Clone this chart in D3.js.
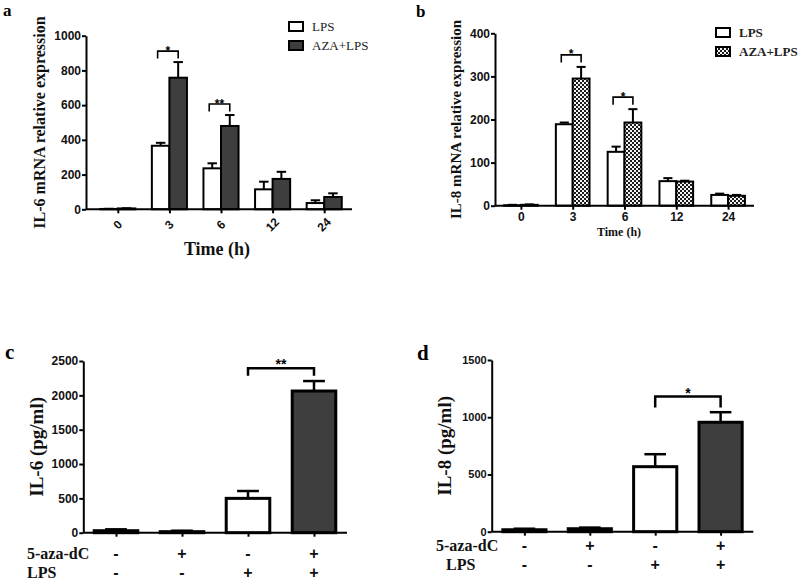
<!DOCTYPE html>
<html><head><meta charset="utf-8">
<script src="https://cdn.jsdelivr.net/npm/d3@7"></script>
<style>body{margin:0;background:#fff}svg{display:block}</style>
</head><body>
<svg id="chart" width="800" height="581"></svg>
<script>
// ---------- DATA ----------
const timeCats = ["0", "3", "6", "12", "24"];
const seriesNames = ["LPS", "AZA+LPS"];

// Panel a: IL-6 mRNA relative expression
const aLPS    = [2, 366, 236, 115, 36];
const aLPSsem = [1, 17, 29, 44, 16];
const aAZA    = [5, 758, 480, 175, 71];
const aAZAsem = [1, 90, 63, 41, 21];
const aTicks  = [0, 200, 400, 600, 800, 1000];
const aSig    = [{cat: "3", label: "*"}, {cat: "6", label: "**"}];

// Panel b: IL-8 mRNA relative expression
const bLPS    = [1, 189, 125, 57, 25];
const bLPSsem = [1, 4, 12, 7, 3];
const bAZA    = [2, 295, 193, 56, 23];
const bAZAsem = [1, 27, 31, 2, 2];
const bTicks  = [0, 100, 200, 300, 400];
const bSig    = [{cat: "3", label: "*"}, {cat: "6", label: "*"}];

// Panels c, d: protein levels
const condCats = ["g1", "g2", "g3", "g4"];
const azaRow   = ["-", "+", "-", "+"];
const lpsRow   = ["-", "-", "+", "+"];
const cVals = [29, 15, 500, 2063];
const cSem  = [20, 14, 107, 145];
const cTicks = [0, 500, 1000, 1500, 2000, 2500];
const cSig = {from: 2, to: 3, label: "**"};
const dVals = [17, 26, 568, 956];
const dSem  = [9, 10, 109, 88];
const dTicks = [0, 500, 1000, 1500];
const dSig = {from: 2, to: 3, label: "*"};

// ---------- DRAW ----------
const svg = d3.select("#chart");
const SERIF = "'Liberation Serif','Times New Roman',serif";
const SANS = "'Liberation Sans',Arial,sans-serif";
const DARK = "#3e3e3e";

const defs = svg.append("defs");
const pat = defs.append("pattern").attr("id", "checker").attr("patternUnits", "userSpaceOnUse")
  .attr("width", 4).attr("height", 4);
pat.append("rect").attr("width", 4).attr("height", 4).attr("fill", "#1c1c1c");
pat.append("rect").attr("x", 0).attr("y", 0).attr("width", 2).attr("height", 2).attr("fill", "#f4f4f4");
pat.append("rect").attr("x", 2).attr("y", 2).attr("width", 2).attr("height", 2).attr("fill", "#f4f4f4");

function yAxis(g, y, x0, ticks, fs, sw) {
  const ax = d3.axisLeft(y).tickValues(ticks).tickFormat(d3.format("d"))
    .tickSize(4).tickSizeOuter(0).tickPadding(1);
  const ga = g.append("g").attr("transform", `translate(${x0},0)`).call(ax);
  ga.select(".domain").attr("stroke-width", sw).attr("stroke", "#000");
  ga.selectAll(".tick line").attr("stroke-width", sw).attr("stroke", "#000");
  ga.selectAll(".tick text").attr("font-family", SANS).attr("font-weight", "bold")
    .attr("font-size", fs).attr("fill", "#111");
  return ga;
}

function groupedPanel(o) {
  const g = svg.append("g");
  const x = d3.scalePoint().domain(timeCats).range(o.xr).padding(0.5);
  const y = d3.scaleLinear().domain([0, o.ticks[o.ticks.length - 1]]).range(o.yr);
  const gw = x.step() * o.gw;
  const xs = d3.scaleBand().domain(seriesNames).range([-gw / 2, gw / 2]).padding(0);
  const bw = xs.bandwidth();
  const data = [];
  timeCats.forEach((c, i) => {
    data.push({cat: c, s: "LPS", v: o.lps[i], e: o.lpsSem[i]});
    data.push({cat: c, s: "AZA+LPS", v: o.aza[i], e: o.azaSem[i]});
  });
  // error bars
  data.forEach(d => {
    const cx = x(d.cat) + xs(d.s) + bw / 2;
    g.append("line").attr("x1", cx).attr("x2", cx).attr("y1", y(d.v)).attr("y2", y(d.v + d.e))
      .attr("stroke", "#000").attr("stroke-width", 2);
    g.append("line").attr("x1", cx - bw * 0.27).attr("x2", cx + bw * 0.27)
      .attr("y1", y(d.v + d.e)).attr("y2", y(d.v + d.e)).attr("stroke", "#000").attr("stroke-width", 2);
  });
  g.selectAll("rect.bar").data(data).join("rect").attr("class", "bar")
    .attr("x", d => x(d.cat) + xs(d.s)).attr("width", bw)
    .attr("y", d => y(d.v)).attr("height", d => y(0) - y(d.v))
    .attr("fill", d => d.s === "LPS" ? "#fff" : o.fill2)
    .attr("stroke", "#000").attr("stroke-width", 2);
  // axes
  yAxis(g, y, o.ax, o.ticks, o.tickFs, 2);
  g.append("line").attr("x1", o.ax).attr("x2", o.xEnd).attr("y1", y(0)).attr("y2", y(0))
    .attr("stroke", "#000").attr("stroke-width", 2);
  const xa = d3.axisBottom(x).tickSize(4).tickSizeOuter(0).tickPadding(o.rot ? 7 : 3);
  const gx = g.append("g").attr("transform", `translate(0,${y(0)})`).call(xa);
  gx.select(".domain").remove();
  gx.selectAll(".tick line").attr("stroke-width", 2).attr("stroke", "#000");
  const tt = gx.selectAll(".tick text").attr("font-family", SANS).attr("font-weight", "bold")
    .attr("font-size", o.tickFs).attr("fill", "#111");
  if (o.rot) {
    tt.attr("text-anchor", "middle").attr("dy", 0).attr("y", 0)
      .attr("transform", "translate(0,16) rotate(-45)").attr("dominant-baseline", "middle");
  }
  // significance brackets
  o.sig.forEach(s => {
    const i = timeCats.indexOf(s.cat);
    const x1 = x(s.cat) + xs("LPS") + bw / 2 - 3, x2 = x(s.cat) + xs("AZA+LPS") + bw / 2;
    const top = y(Math.max(o.lps[i] + o.lpsSem[i], o.aza[i] + o.azaSem[i])) - o.sigOff;
    g.append("path").attr("d", `M${x1},${top + 7.5}V${top}H${x2}V${top + 7.5}`)
      .attr("fill", "none").attr("stroke", "#000").attr("stroke-width", 1.6);
    g.append("text").attr("x", (x1 + x2) / 2).attr("y", top + 3.5).attr("text-anchor", "middle")
      .attr("font-family", SANS).attr("font-weight", "bold").attr("font-size", 12).text(s.label);
  });
  // y title
  const ymid = (o.yr[0] + o.yr[1]) / 2;
  g.append("text").attr("transform", `translate(${o.ytx},${ymid}) rotate(-90)`)
    .attr("text-anchor", "middle").attr("font-family", SERIF).attr("font-weight", "bold")
    .attr("font-size", o.ytFs).attr("fill", "#111").text(o.ytitle);
  // x title
  g.append("text").attr("x", o.xt[0]).attr("y", o.xt[1]).attr("text-anchor", "middle")
    .attr("font-family", SERIF).attr("font-weight", "bold").attr("font-size", o.xtFs)
    .attr("fill", "#111").text("Time (h)");
  // legend
  seriesNames.forEach((n, k) => {
    g.append("rect").attr("x", o.leg[0]).attr("y", o.leg[1] + k * o.leg[2]).attr("width", 14).attr("height", 9)
      .attr("fill", k === 0 ? "#fff" : o.fill2).attr("stroke", "#000").attr("stroke-width", 2);
    g.append("text").attr("x", o.leg[0] + 23).attr("y", o.leg[1] + k * o.leg[2] + 8.5)
      .attr("font-family", SERIF).attr("font-weight", o.legW).attr("font-size", 13)
      .attr("fill", "#222").text(n);
  });
  // panel label
  g.append("text").attr("x", o.pl[0]).attr("y", o.pl[1]).attr("font-family", SERIF)
    .attr("font-weight", "bold").attr("font-size", 17).text(o.label);
}

groupedPanel({
  label: "a", pl: [3, 16], lps: aLPS, lpsSem: aLPSsem, aza: aAZA, azaSem: aAZAsem,
  ticks: aTicks, sig: aSig, xr: [92, 350], yr: [209.3, 35.7], ax: 86, xEnd: 352, gw: 0.68,
  fill2: DARK, tickFs: 12, rot: true, ytitle: "IL-6 mRNA relative expression", ytx: 45, ytFs: 16,
  xt: [217, 255], xtFs: 18, leg: [289, 22, 19], legW: "normal", sigOff: 11
});
groupedPanel({
  label: "b", pl: [416, 17], lps: bLPS, lpsSem: bLPSsem, aza: bAZA, azaSem: bAZAsem,
  ticks: bTicks, sig: bSig, xr: [495, 754], yr: [205.7, 33.3], ax: 495, xEnd: 754, gw: 0.65,
  fill2: "url(#checker)", tickFs: 12, rot: false, ytitle: "IL-8 mRNA relative expression", ytx: 461, ytFs: 15,
  xt: [619, 236], xtFs: 12, leg: [716, 28, 19], legW: "bold", sigOff: 12
});

function condPanel(o) {
  const g = svg.append("g");
  const x = d3.scalePoint().domain(condCats).range(o.xr).padding(0.5);
  const y = d3.scaleLinear().domain([0, o.ticks[o.ticks.length - 1]]).range(o.yr);
  const bw = x.step() * 0.66;
  const data = condCats.map((c, i) => ({c, v: o.vals[i], e: o.sem[i], i}));
  data.forEach(d => {
    const cx = x(d.c);
    g.append("line").attr("x1", cx).attr("x2", cx).attr("y1", y(d.v)).attr("y2", y(d.v + d.e))
      .attr("stroke", "#000").attr("stroke-width", 2.5);
    g.append("line").attr("x1", cx - bw * 0.25).attr("x2", cx + bw * 0.25)
      .attr("y1", y(d.v + d.e)).attr("y2", y(d.v + d.e)).attr("stroke", "#000").attr("stroke-width", 2.5);
  });
  g.selectAll("rect.bar").data(data).join("rect").attr("class", "bar")
    .attr("x", d => x(d.c) - bw / 2).attr("width", bw)
    .attr("y", d => y(d.v)).attr("height", d => y(0) - y(d.v))
    .attr("fill", d => d.i === 3 ? DARK : "#fff").attr("stroke", "#000").attr("stroke-width", 3);
  yAxis(g, y, o.ax, o.ticks, o.tickFs, 2);
  g.append("line").attr("x1", o.ax).attr("x2", o.xEnd).attr("y1", y(0)).attr("y2", y(0))
    .attr("stroke", "#000").attr("stroke-width", 2);
  const gx = g.append("g").attr("transform", `translate(0,${y(0)})`)
    .call(d3.axisBottom(x).tickSize(4).tickSizeOuter(0).tickFormat(""));
  gx.select(".domain").remove();
  gx.selectAll(".tick line").attr("stroke-width", 2).attr("stroke", "#000");
  // sign rows
  [[azaRow, "5-aza-dC", o.rows[0], o.rowX[0]], [lpsRow, "LPS", o.rows[1], o.rowX[1]]].forEach(([row, lab, yy, lx]) => {
    g.append("text").attr("x", lx).attr("y", yy).attr("font-family", SERIF).attr("font-weight", "bold")
      .attr("font-size", 16).attr("fill", "#111").text(lab);
    row.forEach((s, i) => g.append("text").attr("x", x(condCats[i])).attr("y", yy)
      .attr("text-anchor", "middle").attr("font-family", SANS).attr("font-weight", "bold")
      .attr("font-size", 16).attr("fill", "#111").text(s));
  });
  // significance
  const s = o.sig;
  const x1 = x(condCats[s.from]), x2 = x(condCats[s.to]);
  const top = y(Math.max(o.vals[s.from] + o.sem[s.from], o.vals[s.to] + o.sem[s.to])) - o.sigOff;
  g.append("path").attr("d", `M${x1},${top + o.leg}V${top}H${x2}V${top + o.leg}`)
    .attr("fill", "none").attr("stroke", "#000").attr("stroke-width", 2.5);
  g.append("text").attr("x", (x1 + x2) / 2).attr("y", top + 1).attr("text-anchor", "middle")
    .attr("font-family", SANS).attr("font-weight", "bold").attr("font-size", 14).text(s.label);
  // y title
  const ymid = (o.yr[0] + o.yr[1]) / 2;
  g.append("text").attr("transform", `translate(${o.ytx},${ymid}) rotate(-90)`)
    .attr("text-anchor", "middle").attr("font-family", SERIF).attr("font-weight", "bold")
    .attr("font-size", 19).attr("fill", "#111").text(o.ytitle);
  g.append("text").attr("x", o.pl[0]).attr("y", o.pl[1]).attr("font-family", SERIF)
    .attr("font-weight", "bold").attr("font-size", 21).text(o.label);
}

condPanel({
  label: "c", pl: [5, 359], vals: cVals, sem: cSem, ticks: cTicks, sig: cSig,
  xr: [83, 347], yr: [532.7, 361], ax: 83.3, xEnd: 347, tickFs: 12,
  rows: [559, 578], rowX: [27, 27], ytitle: "IL-6 (pg/ml)", ytx: 43, sigOff: 12.7, leg: 7.5
});
condPanel({
  label: "d", pl: [417, 360], vals: dVals, sem: dSem, ticks: dTicks, sig: dSig,
  xr: [491.7, 753.3], yr: [531.7, 360], ax: 491.7, xEnd: 753.3, tickFs: 11,
  rows: [551, 570], rowX: [436, 446], ytitle: "IL-8 (pg/ml)", ytx: 451, sigOff: 15.6, leg: 11
});
</script>
</body></html>
